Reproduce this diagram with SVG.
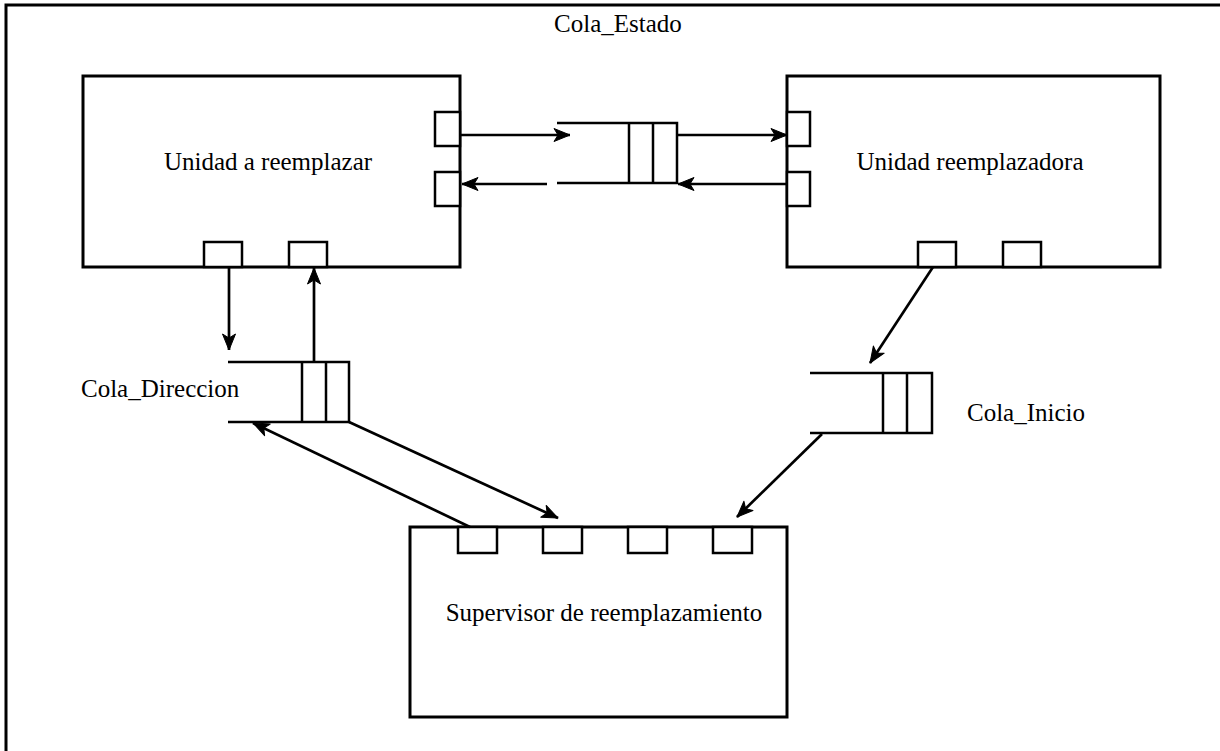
<svg xmlns="http://www.w3.org/2000/svg" width="1220" height="751" viewBox="0 0 1220 751">
<style>
.box{fill:none;stroke:#000;stroke-width:3}
.port{fill:#fff;stroke:#000;stroke-width:2.5}
.q{fill:none;stroke:#000;stroke-width:2.5}
.c{fill:none;stroke:#000;stroke-width:2.7;marker-end:url(#ah)}
.t{font-family:"Liberation Serif","Times New Roman",serif;font-size:25px;fill:#000}
</style>
<defs>
<marker id="ah" markerUnits="userSpaceOnUse" markerWidth="20" markerHeight="16" refX="17" refY="8" orient="auto">
<path d="M1,1.5 L17,8 L1,14.5 L5,8 z" fill="#000" stroke="#000" stroke-width="1" stroke-linejoin="round"/>
</marker>
</defs>
<rect width="1220" height="751" fill="#fff"/>
<g id="frame">
<path d="M6,751 L6,5 L1220,5" class="box"/>
</g>
<g id="unidad-a-reemplazar">
<rect x="83" y="76" width="377" height="191" class="box"/>
<rect x="435" y="112" width="25" height="34" class="port"/>
<rect x="435" y="172" width="25" height="34" class="port"/>
<rect x="204" y="242" width="38" height="25" class="port"/>
<rect x="289" y="242" width="38" height="25" class="port"/>
<text x="268" y="170" text-anchor="middle" class="t">Unidad a reemplazar</text>
</g>
<g id="unidad-reemplazadora">
<rect x="787" y="76" width="373" height="191" class="box"/>
<rect x="787" y="112" width="23" height="34" class="port"/>
<rect x="787" y="172" width="23" height="34" class="port"/>
<rect x="918" y="242" width="38" height="25" class="port"/>
<rect x="1003" y="242" width="38" height="25" class="port"/>
<text x="970" y="170" text-anchor="middle" class="t">Unidad reemplazadora</text>
</g>
<g id="supervisor">
<rect x="410" y="527" width="377" height="190" class="box"/>
<rect x="458" y="527" width="39" height="26" class="port"/>
<rect x="543" y="527" width="39" height="26" class="port"/>
<rect x="628" y="527" width="39" height="26" class="port"/>
<rect x="713" y="527" width="39" height="26" class="port"/>
<text x="604" y="621" text-anchor="middle" class="t">Supervisor de reemplazamiento</text>
</g>
<g id="cola-estado">
<path d="M557,123 L677,123 L677,183 L557,183 M629,123 L629,183 M653,123 L653,183" class="q"/>
<text x="618" y="32" text-anchor="middle" class="t">Cola_Estado</text>
</g>
<g id="cola-direccion">
<path d="M228,362 L349,362 L349,422 L228,422 M302,362 L302,422 M326,362 L326,422" class="q"/>
<text x="81" y="397" class="t">Cola_Direccion</text>
</g>
<g id="cola-inicio">
<path d="M810,373 L932,373 L932,433 L810,433 M883,373 L883,433 M907,373 L907,433" class="q"/>
<text x="967" y="421" class="t">Cola_Inicio</text>
</g>
<g id="connectors">
<line x1="460" y1="135" x2="570" y2="135" class="c"/>
<line x1="677" y1="135" x2="787" y2="135" class="c"/>
<line x1="787" y1="184" x2="678" y2="184" class="c"/>
<line x1="547" y1="184" x2="462" y2="184" class="c"/>
<line x1="229" y1="267" x2="229" y2="350" class="c"/>
<line x1="314" y1="362" x2="314" y2="268" class="c"/>
<line x1="349" y1="422" x2="558" y2="518" class="c"/>
<line x1="470" y1="527" x2="253" y2="423" class="c"/>
<line x1="933" y1="267" x2="870" y2="363" class="c"/>
<line x1="822" y1="434" x2="737" y2="517" class="c"/>
</g>
</svg>
